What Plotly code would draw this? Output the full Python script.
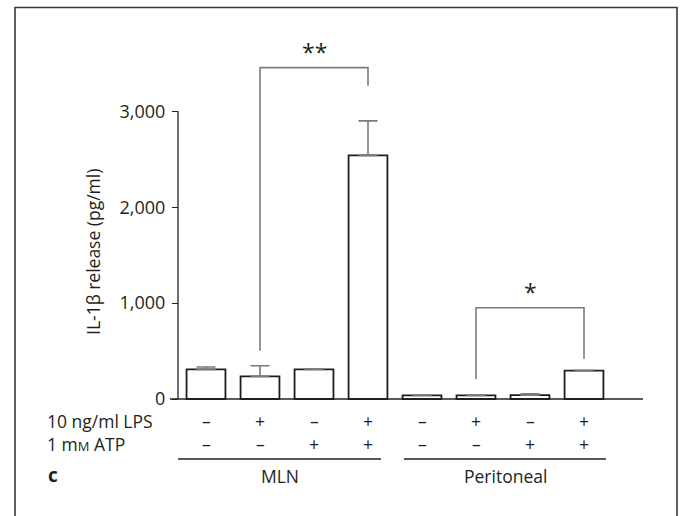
import plotly.graph_objects as go

# ---- data ----
groups = ["MLN", "MLN", "MLN", "MLN", "Peritoneal", "Peritoneal", "Peritoneal", "Peritoneal"]
il1b_mean = [308, 235, 309, 2540, 38, 38, 40, 295]
il1b_err = [25, 112, 3, 360, 2, 2, 14, 3]
lps = ["–", "+", "–", "+", "–", "+", "–", "+"]
atp = ["–", "–", "+", "+", "–", "–", "+", "+"]
ytick_vals = [0, 1000, 2000, 3000]
ytick_text = ["0", "1,000", "2,000", "3,000"]
# significance brackets: (left bar, right bar, left foot, top, right foot, label)
brackets = [
    (1, 3, 504, 3455, 3267, "**"),
    (5, 7, 205, 952, 420, "*"),
]

FONT = "Open Sans"
TXT = "#231f20"
W, H = 680, 516
FS = 17.5

# pixel mapping helpers for layout (plot area = full figure)
px_per_bar = 54.0
x_center0 = 206.0
y_zero = 399.0
px_per_unit = 95.9 / 1000.0


def xi(px):
    return (px - x_center0) / px_per_bar


def yv(py):
    return (y_zero - py) / px_per_unit


xr = [xi(0), xi(W)]
yr = [yv(H), yv(0)]

x = list(range(len(il1b_mean)))

fig = go.Figure()
fig.add_trace(go.Bar(
    x=x, y=il1b_mean, width=0.72,
    marker=dict(color="white", line=dict(color="#1e1e1e", width=1.8)),
    error_y=dict(type="data", symmetric=False, array=il1b_err,
                 arrayminus=[0] * len(il1b_err), color="#7a7a7a",
                 thickness=1.6, width=9.5),
    showlegend=False, hoverinfo="skip",
))

shapes = []
ann = []

# y axis line 0..3000
x_axis_px = 178
shapes.append(dict(type="line", xref="x", yref="y", x0=xi(x_axis_px), x1=xi(x_axis_px),
                   y0=0, y1=ytick_vals[-1], line=dict(color="#222222", width=1.3)))
# baseline
shapes.append(dict(type="line", xref="x", yref="y", x0=xi(170), x1=xi(643),
                   y0=0, y1=0, line=dict(color="#222222", width=1.3)))

# brackets
for (l, r, lf, top, rf, lab) in brackets:
    shapes.append(dict(type="path", xref="x", yref="y",
                       path=f"M {l},{lf} L {l},{top} L {r},{top} L {r},{rf}",
                       line=dict(color="#7a7a7a", width=1.6)))
    ann.append(dict(x=(l + r) / 2, y=top + 160, xref="x", yref="y", text=lab,
                    showarrow=False, font=dict(family=FONT, size=23, color=TXT)))

# +/- rows
for i in x:
    ann.append(dict(x=i, y=yv(421), xref="x", yref="y", text=lps[i], showarrow=False,
                    font=dict(family=FONT, size=FS, color=TXT)))
    ann.append(dict(x=i, y=yv(443.5), xref="x", yref="y", text=atp[i], showarrow=False,
                    font=dict(family=FONT, size=FS, color=TXT)))

# row labels
ann.append(dict(x=xi(45), y=yv(421), xref="x", yref="y", text="10 ng/ml LPS",
                showarrow=False, xanchor="left", font=dict(family=FONT, size=FS, color=TXT)))
ann.append(dict(x=xi(45), y=yv(443.5), xref="x", yref="y",
                text="1 m<span style='font-size:13px'>M</span> ATP",
                showarrow=False, xanchor="left", font=dict(family=FONT, size=FS, color=TXT)))
ann.append(dict(x=xi(46), y=yv(475), xref="x", yref="y", text="<b>c</b>",
                showarrow=False, xanchor="left", font=dict(family=FONT, size=19, color=TXT)))

# group underlines and labels
group_names = ["MLN", "Peritoneal"]
group_spans_px = [(178, 381), (404, 606)]
for name, (a, b) in zip(group_names, group_spans_px):
    shapes.append(dict(type="line", xref="x", yref="y", x0=xi(a), x1=xi(b),
                       y0=yv(459), y1=yv(459), line=dict(color="#222222", width=1.3)))
    ann.append(dict(x=xi((a + b) / 2), y=yv(476), xref="x", yref="y", text=name,
                    showarrow=False, font=dict(family=FONT, size=FS, color=TXT)))

# y axis title
ann.append(dict(x=xi(93), y=yv(252), xref="x", yref="y", text="IL-1β release (pg/ml)",
                textangle=-90, showarrow=False, font=dict(family=FONT, size=FS, color=TXT)))

# frame (open at bottom)
fx0, fx1, fy1 = 15 / W, 677 / W, 1 - 7.5 / H
shapes.append(dict(type="path", xref="paper", yref="paper",
                   path=f"M {fx0},-0.05 L {fx0},{fy1} L {fx1},{fy1} L {fx1},-0.05",
                   line=dict(color="#3a3a3a", width=1.6)))

fig.update_layout(
    width=W, height=H,
    margin=dict(l=0, r=0, t=0, b=0),
    paper_bgcolor="white", plot_bgcolor="white",
    xaxis=dict(range=xr, visible=False, fixedrange=True),
    yaxis=dict(range=yr, anchor="free", position=x_axis_px / W,
               tickvals=ytick_vals, ticktext=ytick_text, ticks="outside",
               ticklen=6, tickwidth=1.3, tickcolor="#222222", ticklabelstandoff=3,
               showline=False, showgrid=False, zeroline=False, fixedrange=True,
               tickfont=dict(family=FONT, size=18, color=TXT)),
    shapes=shapes, annotations=ann,
    font=dict(family=FONT, color=TXT),
)

fig.write_html("out.html", config={"displayModeBar": False},
               post_script="document.body.style.margin='0';")
